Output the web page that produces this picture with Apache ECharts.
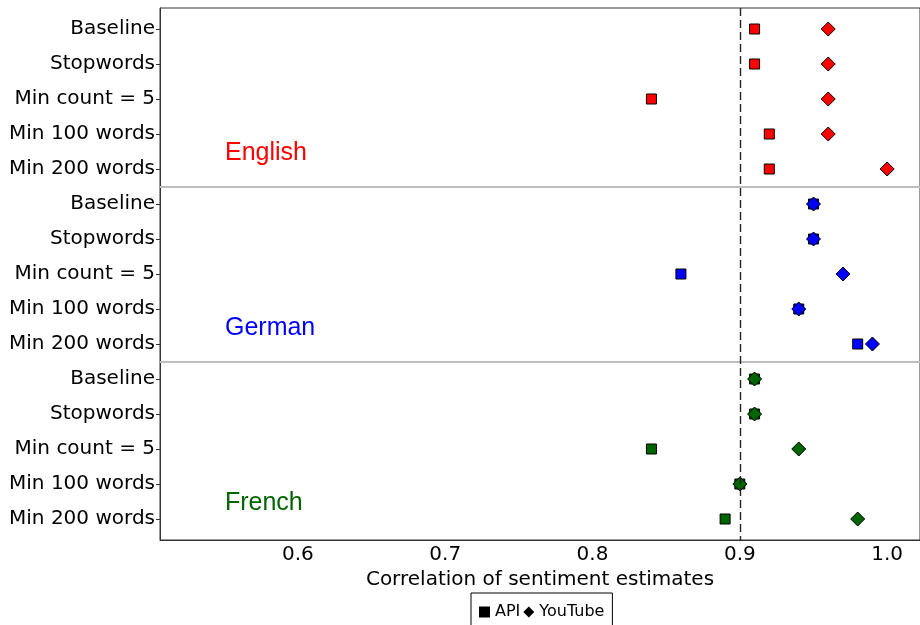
<!DOCTYPE html>
<html>
<head>
<meta charset="utf-8">
<script src="https://cdn.jsdelivr.net/npm/echarts@6/dist/echarts.min.js"></script>
<style>
  html, body { margin: 0; padding: 0; background: #fff; }
  #chart { width: 920px; height: 625px; }
</style>
</head>
<body>
<div id="chart"></div>
<script>
// Preprocessing variants, repeated for each language block
const variants = ['Baseline', 'Stopwords', 'Min count = 5', 'Min 100 words', 'Min 200 words'];
const languages = ['English', 'German', 'French'];
const languageColors = ['#ff0000', '#0000ff', '#006400'];

// Correlation of sentiment estimates, one array per language (variant order above)
const apiEnglish = [0.91, 0.91, 0.84, 0.92, 0.92];
const youtubeEnglish = [0.96, 0.96, 0.96, 0.96, 1.00];
const apiGerman = [0.95, 0.95, 0.86, 0.94, 0.98];
const youtubeGerman = [0.95, 0.95, 0.97, 0.94, 0.99];
const apiFrench = [0.91, 0.91, 0.84, 0.90, 0.89];
const youtubeFrench = [0.91, 0.91, 0.94, 0.90, 0.98];

const xTicks = [0.6, 0.7, 0.8, 0.9, 1.0];
const referenceLine = 0.9;

const apiByLang = [apiEnglish, apiGerman, apiFrench];
const ytByLang = [youtubeEnglish, youtubeGerman, youtubeFrench];

// Row labels top to bottom
const rowLabels = [];
languages.forEach(() => variants.forEach(v => rowLabels.push(v)));
const rowIdx = rowLabels.map((_, i) => i);

function buildPoints(byLang) {
  const pts = [];
  byLang.forEach((arr, g) => {
    arr.forEach((v, k) => {
      pts.push({
        value: [v, g * variants.length + k],
        itemStyle: { color: languageColors[g], opacity: 1 }
      });
    });
  });
  return pts;
}

// Language titles sit between the 4th and 5th row of each block
const titlePoints = languages.map((name, g) => ({
  value: [0.5505, g * variants.length + 3.55],
  label: { formatter: name, color: languageColors[g] }
}));

const chart = echarts.init(document.getElementById('chart'));
chart.setOption({
  animation: false,
  textStyle: { fontFamily: 'DejaVu Sans' },
  grid: {
    left: 160, right: -1, top: 8, bottom: 85,
    show: true, borderColor: '#333', borderWidth: 1, backgroundColor: '#fff'
  },
  xAxis: {
    type: 'value',
    min: 0.5064,
    max: 1.0223,
    name: 'Correlation of sentiment estimates',
    nameLocation: 'middle',
    nameGap: 21,
    nameTextStyle: { fontSize: 20, color: '#000' },
    axisLine: { show: true, onZero: false, lineStyle: { color: '#333' } },
    axisTick: { show: false, customValues: xTicks },
    axisLabel: {
      customValues: xTicks,
      fontSize: 20, color: '#000', margin: 5,
      formatter: v => v.toFixed(1)
    },
    splitLine: { show: false }
  },
  yAxis: {
    type: 'value',
    inverse: true,
    min: -0.6,
    max: 14.6,
    axisLine: { show: true, onZero: false, lineStyle: { color: '#333' } },
    axisTick: { show: true, length: 4, customValues: rowIdx, lineStyle: { color: '#333' } },
    axisLabel: {
      customValues: rowIdx,
      fontSize: 20, color: '#000', margin: 5,
      padding: [4, 0, 0, 0],
      formatter: v => rowLabels[Math.round(v)]
    },
    splitLine: { show: false }
  },
  legend: {
    left: 471,
    top: 593,
    padding: [11, 8, 20, 8],
    borderColor: '#000',
    borderWidth: 1,
    itemWidth: 11,
    itemHeight: 11,
    itemGap: 3,
    textStyle: { fontSize: 16, color: '#000' },
    data: [
      { name: 'API', icon: 'rect', itemStyle: { color: '#000', borderWidth: 0, opacity: 1 } },
      { name: 'YouTube', icon: 'diamond', itemStyle: { color: '#000', borderWidth: 0, opacity: 1 } }
    ]
  },
  series: [
    {
      name: 'guides',
      type: 'scatter',
      data: [],
      silent: true,
      markLine: {
        silent: true,
        symbol: 'none',
        label: { show: false },
        data: [
          { yAxis: 4.5, lineStyle: { color: '#bebebe', width: 2, type: 'solid' } },
          { yAxis: 9.5, lineStyle: { color: '#bebebe', width: 2, type: 'solid' } },
          { xAxis: referenceLine, lineStyle: { color: '#222', width: 1.4, type: [8, 4] } }
        ]
      }
    },
    {
      name: 'API',
      type: 'scatter',
      symbol: 'rect',
      symbolSize: 10,
      itemStyle: { color: '#000', borderColor: '#000', borderWidth: 1, opacity: 1 },
      data: buildPoints(apiByLang),
      z: 3
    },
    {
      name: 'YouTube',
      type: 'scatter',
      symbol: 'diamond',
      symbolSize: 14,
      itemStyle: { color: '#000', borderColor: '#000', borderWidth: 1, opacity: 1 },
      data: buildPoints(ytByLang),
      z: 4
    },
    {
      name: 'titles',
      type: 'scatter',
      symbolSize: 0,
      silent: true,
      itemStyle: { opacity: 1 },
      label: {
        show: true,
        position: 'right',
        distance: 0,
        fontSize: 25,
        opacity: 1,
        fontFamily: 'Liberation Sans'
      },
      data: titlePoints
    }
  ]
});
</script>
</body>
</html>
